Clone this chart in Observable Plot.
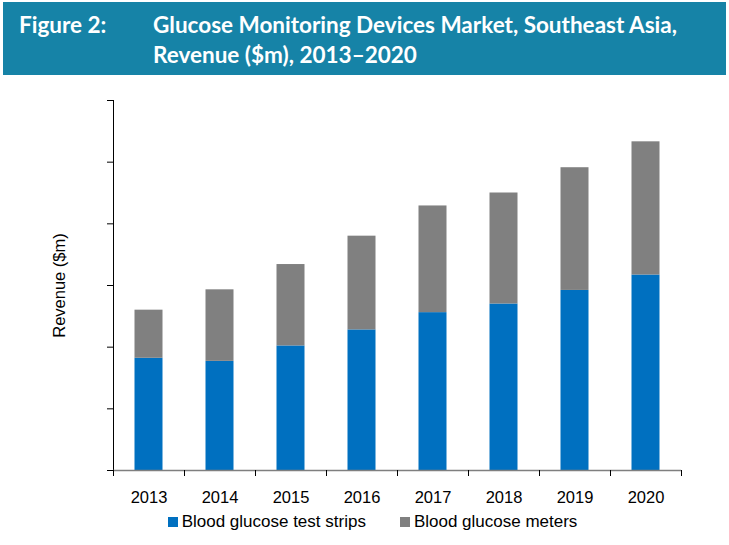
<!DOCTYPE html>
<html>
<head>
<meta charset="utf-8">
<script src="https://cdn.jsdelivr.net/npm/d3@7"></script>
<script src="https://cdn.jsdelivr.net/npm/@observablehq/plot@0.6"></script>
<style>
  html, body { margin: 0; padding: 0; background: #fff; width: 729px; height: 545px; overflow: hidden; }
  #banner { position: absolute; left: 3px; top: 2px; width: 723px; height: 73px; background: #1683a7; color: #fff; font-family: Lato, "Open Sans", sans-serif; font-weight: bold; font-size: 22.5px; }
  #fig { position: absolute; left: 16px; top: 8px; line-height: 30px; }
  #ttl { position: absolute; left: 150px; top: 8px; line-height: 30px; }
  #chart { position: absolute; left: 0; top: 80px; }
  #legend { position: absolute; left: 8px; top: 512px; width: 729px; display: flex; justify-content: center; gap: 34px; font-family: "Liberation Sans", Arial, sans-serif; font-size: 17px; color: #000; }
  .item { display: flex; align-items: center; gap: 4px; }
  .sw { width: 10px; height: 10px; display: inline-block; }
</style>
</head>
<body>
<div id="banner"><span id="fig">Figure 2:</span><div id="ttl">Glucose Monitoring Devices Market, Southeast Asia,<br>Revenue ($m), 2013–2020</div></div>
<div id="chart"></div>
<div id="legend"></div>
<script>
const years = ["2013", "2014", "2015", "2016", "2017", "2018", "2019", "2020"];
const strips = [182, 177, 202, 228, 256, 270, 292, 317];
const meters = [78, 116, 132, 152, 173, 180, 199, 216];
const seriesNames = ["Blood glucose test strips", "Blood glucose meters"];
const seriesColors = ["#0070c0", "#808080"];
const yTicks = [0, 100, 200, 300, 400, 500, 600];

const data = years.flatMap((yr, i) => [
  {year: yr, series: seriesNames[0], value: strips[i]},
  {year: yr, series: seriesNames[1], value: meters[i]}
]);

const bandHalf = (729 - 113 - 48) / years.length / 2;

const chart = Plot.plot({
  width: 729,
  height: 430,
  marginTop: 20,
  marginBottom: 40,
  marginLeft: 113,
  marginRight: 48,
  style: {fontFamily: "'Liberation Sans', Arial, sans-serif", fontSize: "16px", background: "transparent", color: "#000"},
  x: {type: "band", domain: years, padding: 0, label: null},
  y: {domain: [0, 600], label: null},
  color: {domain: seriesNames, range: seriesColors},
  marks: [
    Plot.barY(data, {x: "year", y: "value", fill: "series", insetLeft: 21.5, insetRight: 21.5}),
    Plot.axisY({ticks: yTicks, tickSize: 6, tickFormat: () => "", label: "Revenue ($m)", labelAnchor: "center", labelArrow: "none", labelOffset: 60, fontSize: 16.5, stroke: "#000"}),
    Plot.frame({anchor: "left", stroke: "#000"}),
    Plot.ruleY([0], {stroke: "#7f7f7f", strokeWidth: 1.5}),
    Plot.axisX({ticks: years, tickSize: 6, dx: -bandHalf, tickFormat: () => "", stroke: "#000"}),
    Plot.axisX({ticks: [years[years.length - 1]], tickSize: 6, dx: bandHalf, tickFormat: () => "", stroke: "#000"}),
    Plot.axisX({tickSize: 0, tickPadding: 21, fontSize: 16.5})
  ]
});
document.getElementById("chart").appendChild(chart);

const legend = document.getElementById("legend");
seriesNames.forEach((name, i) => {
  const item = document.createElement("span");
  item.className = "item";
  const sw = document.createElement("span");
  sw.className = "sw";
  sw.style.background = seriesColors[i];
  item.appendChild(sw);
  item.appendChild(document.createTextNode(name));
  legend.appendChild(item);
});
</script>
</body>
</html>
